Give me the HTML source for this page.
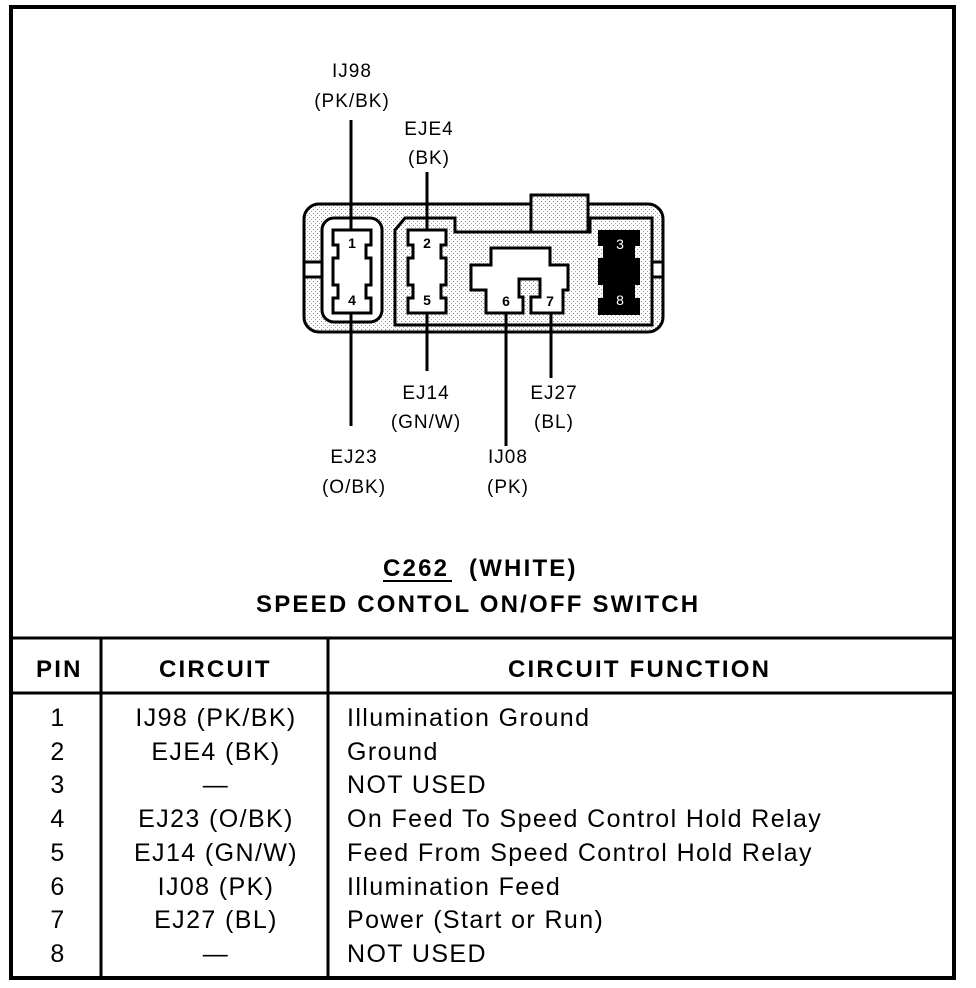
<!DOCTYPE html>
<html><head><style>
body{margin:0;background:#fff;}
svg{display:block;font-family:"Liberation Sans",Arial,sans-serif;}
</style></head><body>
<svg width="976" height="988" viewBox="0 0 976 988" xmlns="http://www.w3.org/2000/svg">
<defs>
<pattern id="dots" width="4" height="4" patternUnits="userSpaceOnUse">
<rect width="4" height="4" fill="#fff"/><rect x="1" y="1" width="1" height="1" fill="#888"/><rect x="3" y="3" width="1" height="1" fill="#aaa"/>
</pattern>
</defs>
<rect x="11" y="7" width="943" height="971" fill="none" stroke="#000" stroke-width="4"/>
<line x1="11" y1="638" x2="954" y2="638" stroke="#000" stroke-width="3"/>
<line x1="11" y1="693" x2="954" y2="693" stroke="#000" stroke-width="3"/>
<line x1="101" y1="638" x2="101" y2="978" stroke="#000" stroke-width="3"/>
<line x1="328" y1="638" x2="328" y2="978" stroke="#000" stroke-width="3"/>

<!-- connector -->
<g stroke="#000" stroke-width="3" fill="none">
<rect x="304" y="204" width="359" height="128" rx="15" fill="url(#dots)"/>
<rect x="304" y="262" width="18" height="15" fill="#fff"/>
<rect x="652" y="262" width="11" height="15" fill="#fff"/>
<rect x="322" y="218" width="60" height="104" rx="12" fill="#fff"/>
<path d="M395 325 L395 230 L405 218 L455 218 L455 232 L590 232 L590 218 L652 218 L652 325 Z" fill="url(#dots)"/>
<rect x="531" y="195" width="57" height="37" fill="url(#dots)"/>
<path d="M333 230 L371 230 L371 245 L366 245 L366 258 L371 258 L371 285 L366 285 L366 298 L371 298 L371 313 L333 313 L333 298 L338 298 L338 285 L333 285 L333 258 L338 258 L338 245 L333 245 Z" fill="#fff"/>
<path d="M408 230 L446 230 L446 245 L441 245 L441 258 L446 258 L446 285 L441 285 L441 298 L446 298 L446 313 L408 313 L408 298 L413 298 L413 285 L408 285 L408 258 L413 258 L413 245 L408 245 Z" fill="#fff"/>
<path d="M491 248 L550 248 L550 265 L568 265 L568 290 L563 290 L563 313 L531 313 L531 297 L540 297 L540 279 L519 279 L519 297 L523 297 L523 313 L486 313 L486 290 L471 290 L471 265 L491 265 Z" fill="#fff"/>
</g>
<path d="M598 230 L640 230 L640 246 L635 246 L635 258 L640 258 L640 285 L635 285 L635 298 L640 298 L640 315 L598 315 L598 298 L603 298 L603 285 L598 285 L598 258 L603 258 L603 246 L598 246 Z" fill="#000"/>
<g font-size="14" font-weight="bold" text-anchor="middle">
<text x="352" y="248">1</text><text x="352" y="305">4</text>
<text x="427" y="248">2</text><text x="427" y="305">5</text>
<text x="506" y="306">6</text><text x="550" y="306">7</text>
<text x="620" y="249" fill="#fff" font-weight="normal">3</text><text x="620" y="305" fill="#fff" font-weight="normal">8</text>
</g>
<g stroke="#000" stroke-width="3">
<line x1="351" y1="120" x2="351" y2="230"/><line x1="351" y1="313" x2="351" y2="426"/>
<line x1="427" y1="172" x2="427" y2="230"/><line x1="427" y1="313" x2="427" y2="371"/>
<line x1="506" y1="313" x2="506" y2="446"/><line x1="551" y1="313" x2="551" y2="378"/>
</g>
<g font-size="19" text-anchor="middle" letter-spacing="1">
<text x="352" y="77">IJ98</text><text x="352" y="107">(PK/BK)</text>
<text x="429" y="135">EJE4</text><text x="429" y="164">(BK)</text>
<text x="426" y="399">EJ14</text><text x="426" y="428">(GN/W)</text>
<text x="554" y="399">EJ27</text><text x="554" y="428">(BL)</text>
<text x="354" y="463">EJ23</text><text x="354" y="493">(O/BK)</text>
<text x="508" y="463">IJ08</text><text x="508" y="493">(PK)</text>
</g>
<g font-size="24" font-weight="bold" letter-spacing="2.2">
<text x="383" y="576">C262</text>
<text x="469" y="576">(WHITE)</text>
<text x="256" y="612">SPEED CONTOL ON/OFF SWITCH</text>
<text x="36" y="677">PIN</text>
<text x="159" y="677">CIRCUIT</text>
<text x="508" y="677">CIRCUIT FUNCTION</text>
</g>
<line x1="383" y1="581" x2="452" y2="581" stroke="#000" stroke-width="2"/>
<g font-size="25" letter-spacing="1.4">
<g text-anchor="middle">
<text x="58" y="726">1</text><text x="58" y="760">2</text><text x="58" y="793">3</text><text x="58" y="827">4</text>
<text x="58" y="861">5</text><text x="58" y="895">6</text><text x="58" y="928">7</text><text x="58" y="962">8</text>
<text x="216" y="726">IJ98 (PK/BK)</text><text x="216" y="760">EJE4 (BK)</text><text x="216" y="793">—</text>
<text x="216" y="827">EJ23 (O/BK)</text><text x="216" y="861">EJ14 (GN/W)</text><text x="216" y="895">IJ08 (PK)</text>
<text x="216" y="928">EJ27 (BL)</text><text x="216" y="962">—</text>
</g>
<text x="347" y="726">Illumination Ground</text>
<text x="347" y="760">Ground</text>
<text x="347" y="793">NOT USED</text>
<text x="347" y="827">On Feed To Speed Control Hold Relay</text>
<text x="347" y="861">Feed From Speed Control Hold Relay</text>
<text x="347" y="895">Illumination Feed</text>
<text x="347" y="928">Power (Start or Run)</text>
<text x="347" y="962">NOT USED</text>
</g>
</svg>
</body></html>
